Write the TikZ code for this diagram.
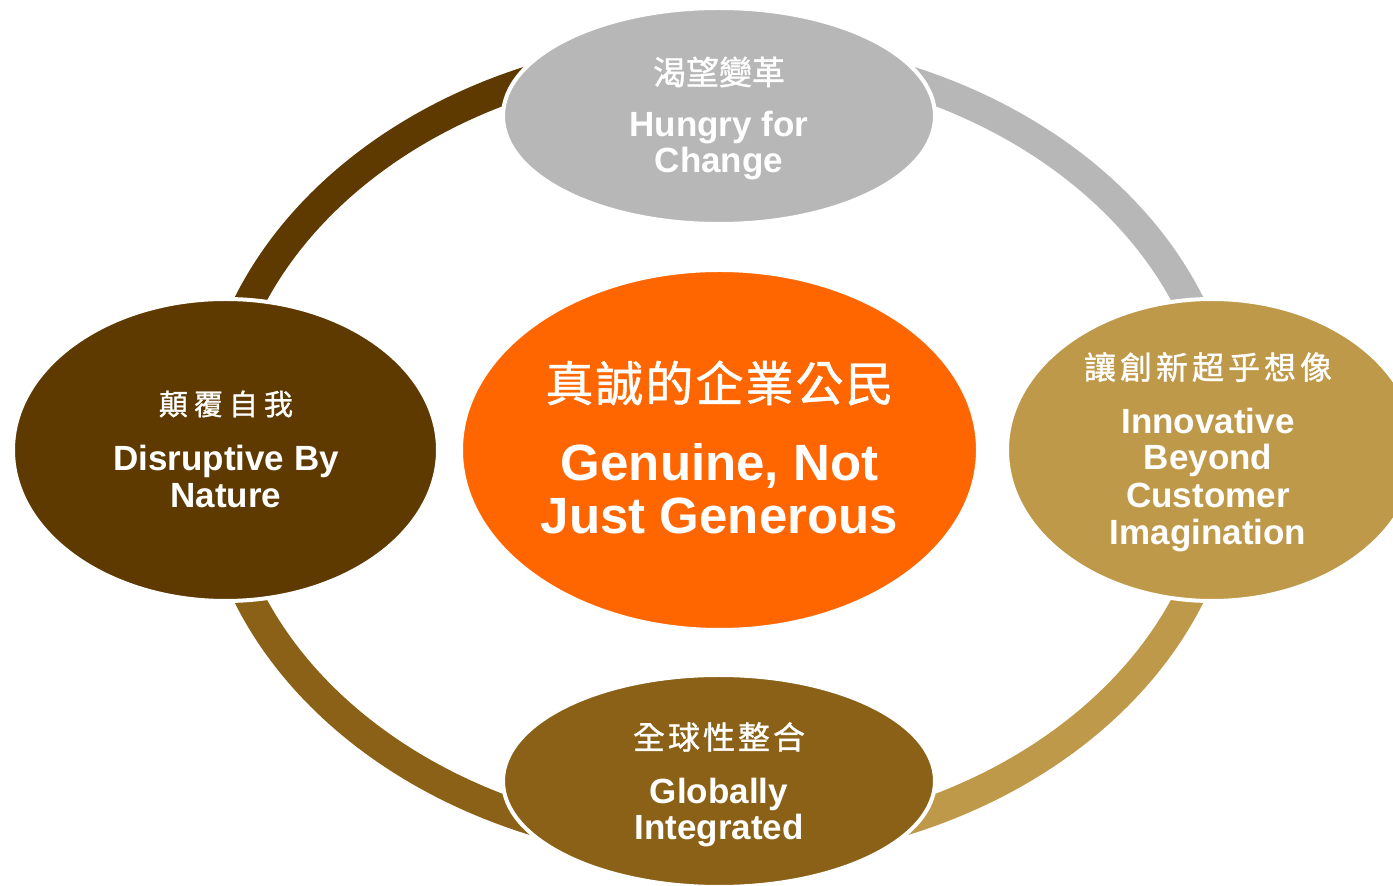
\documentclass[tikz,border=0pt]{standalone}
\usepackage{fontspec}
\setmainfont{Liberation Sans}
\newfontfamily\cjk[FakeBold=1]{Noto Sans CJK TC}
\usetikzlibrary{shapes.geometric}
\definecolor{cGray}{HTML}{B7B7B7}
\definecolor{cDark}{HTML}{5E3A00}
\definecolor{cTan}{HTML}{BF994A}
\definecolor{cBrown}{HTML}{8A6116}
\definecolor{cOrange}{HTML}{FF6600}
\tikzset{
  ring/.style={line width=15pt},
  bubble/.style={ellipse, draw=white, line width=2pt, inner sep=0pt},
  en/.style={font=\bfseries\fontsize{17.5}{21}\selectfont, text=white, anchor=base, inner sep=0pt},
  enbig/.style={font=\bfseries\fontsize{25.5}{30}\selectfont, text=white, anchor=base, inner sep=0pt},
  zh/.style={text=white, anchor=center, inner sep=0pt}
}
\begin{document}
\begin{tikzpicture}[x=0.5pt,y=-0.5pt]
\useasboundingbox (0,0) rectangle (1393,886);
% ring
\coordinate (rc) at (719,450);
\draw[ring, cDark]  (rc) ++(180:506 and 398) arc[start angle=180, end angle=270, x radius=506, y radius=398];
\draw[ring, cGray]  (rc) ++(270:506 and 398) arc[start angle=270, end angle=360, x radius=506, y radius=398];
\draw[ring, cTan]   (rc) ++(0:506 and 398) arc[start angle=0, end angle=90, x radius=506, y radius=398];
\draw[ring, cBrown] (rc) ++(90:506 and 398) arc[start angle=90, end angle=180, x radius=506, y radius=398];
% bubbles
\node[bubble, fill=cGray, minimum width=216pt, minimum height=108pt] (top) at (719,116) {};
\node[bubble, fill=cDark, minimum width=212.5pt, minimum height=151pt] (left) at (225.5,450) {};
\node[bubble, fill=cTan, minimum width=205pt, minimum height=151pt] (right) at (1212,450) {};
\node[bubble, fill=cBrown, minimum width=216pt, minimum height=106pt] (bottom) at (719,781) {};
\node[bubble, fill=cOrange, minimum width=258.5pt, minimum height=180pt] (center) at (719.5,450) {};
% texts: top
\node[zh, font=\cjk\fontsize{16.5}{16}\selectfont] (topzh) at (719,72) {渴望變革};
\node[en] (topen1) at (719,137) {Hungry for};
\node[en] (topen2) at (719,173) {Change};
% left
\node[zh, font=\cjk\fontsize{14.5}{15}\selectfont] (leftzh) at (226,404) {顛\hspace{3pt}覆\hspace{3pt}自\hspace{3pt}我};
\node[en] (leften1) at (226,471) {Disruptive By};
\node[en] (leften2) at (226,508) {Nature};
% right
\node[zh, font=\cjk\fontsize{16}{16}\selectfont] (rightzh) at (1208,367) {讓\hspace{2pt}創\hspace{2pt}新\hspace{2pt}超\hspace{2pt}乎\hspace{2pt}想\hspace{2pt}像};
\node[en] (righten1) at (1208,434) {Innovative};
\node[en] (righten2) at (1208,470) {Beyond};
\node[en] (righten3) at (1208,508) {Customer};
\node[en] (righten4) at (1208,545) {Imagination};
% bottom
\node[zh, font=\cjk\fontsize{16}{16}\selectfont] (bottomzh) at (719,737) {全\hspace{1.5pt}球\hspace{1.5pt}性\hspace{1.5pt}整\hspace{1.5pt}合};
\node[en] (bottomen1) at (719,804) {Globally};
\node[en] (bottomen2) at (719,840) {Integrated};
% center
\node[zh, font=\cjk\fontsize{24}{24}\selectfont] (centerzh) at (719.5,383) {真\hspace{1pt}誠\hspace{1pt}的\hspace{1pt}企\hspace{1pt}業\hspace{1pt}公\hspace{1pt}民};
\node[enbig] (centeren1) at (719.5,481) {Genuine, Not};
\node[enbig] (centeren2) at (719.5,534) {Just Generous};
\end{tikzpicture}
\end{document}
